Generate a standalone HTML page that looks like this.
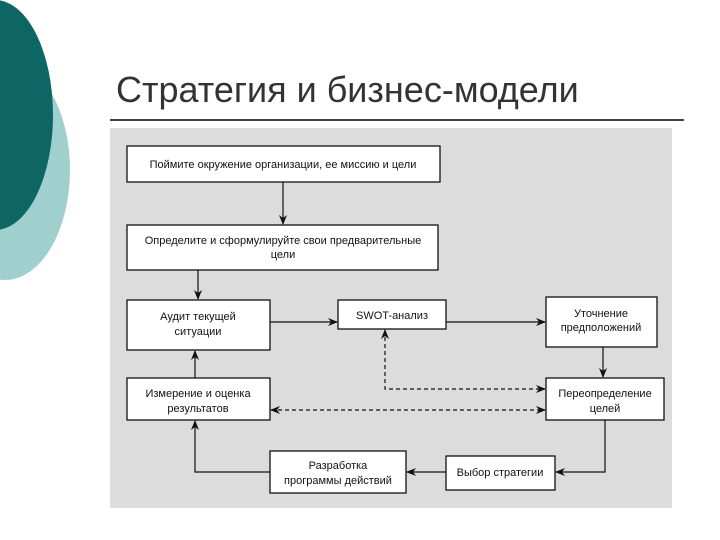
<!DOCTYPE html>
<html><head><meta charset="utf-8"><style>
body{margin:0;width:720px;height:540px;background:#fff;overflow:hidden;position:relative;font-family:"Liberation Sans",sans-serif}
</style></head><body>
<svg width="720" height="540" style="position:absolute;left:0;top:0" font-family="Liberation Sans, sans-serif">
<defs>
<marker id="a" markerWidth="10" markerHeight="8" refX="9" refY="4" orient="auto" markerUnits="userSpaceOnUse"><path d="M0,0 L10,4 L0,8 L3,4z" fill="#111"/></marker>
<marker id="b" markerWidth="10" markerHeight="8" refX="1" refY="4" orient="auto" markerUnits="userSpaceOnUse"><path d="M10,0 L0,4 L10,8 L7,4z" fill="#111"/></marker>
</defs>
<ellipse cx="5" cy="170" rx="65" ry="110" fill="#9fd0ce"/>
<ellipse cx="-5" cy="115" rx="58" ry="115" fill="#0d6663"/>
<text x="116" y="102" font-size="36" fill="#333">Стратегия и бизнес-модели</text>
<line x1="110" y1="120" x2="684" y2="120" stroke="#000" stroke-width="1.5"/>
<rect x="110" y="128" width="562" height="380" fill="#dcdcdc"/>
<g fill="#fff" stroke="#111" stroke-width="1.3">
<rect x="127" y="146" width="313" height="36"/>
<rect x="127" y="225" width="311" height="45"/>
<rect x="127" y="300" width="143" height="50"/>
<rect x="338" y="300" width="108" height="29"/>
<rect x="546" y="297" width="111" height="50"/>
<rect x="127" y="378" width="143" height="42"/>
<rect x="546" y="378" width="118" height="42"/>
<rect x="270" y="451" width="136" height="42"/>
<rect x="446" y="456" width="109" height="34"/>
</g>
<g font-size="11" fill="#111" text-anchor="middle">
<text x="283" y="168">Поймите окружение организации, ее миссию и цели</text>
<text x="283" y="244">Определите и сформулируйте свои предварительные</text>
<text x="283" y="258">цели</text>
<text x="198" y="320">Аудит текущей</text>
<text x="198" y="335">ситуации</text>
<text x="392" y="319">SWOT-анализ</text>
<text x="601" y="317">Уточнение</text>
<text x="601" y="331">предположений</text>
<text x="198" y="397">Измерение и оценка</text>
<text x="198" y="412">результатов</text>
<text x="605" y="397">Переопределение</text>
<text x="605" y="412">целей</text>
<text x="338" y="469">Разработка</text>
<text x="338" y="484">программы действий</text>
<text x="500" y="476">Выбор стратегии</text>
</g>
<g stroke="#111" stroke-width="1.2" fill="none">
<line x1="283" y1="182" x2="283" y2="224" marker-end="url(#a)"/>
<line x1="198" y1="270" x2="198" y2="299" marker-end="url(#a)"/>
<line x1="270" y1="322" x2="337" y2="322" marker-end="url(#a)"/>
<line x1="446" y1="322" x2="545" y2="322" marker-end="url(#a)"/>
<line x1="603" y1="347" x2="603" y2="377" marker-end="url(#a)"/>
<polyline points="605,420 605,472 556,472" marker-end="url(#a)"/>
<line x1="446" y1="472" x2="407" y2="472" marker-end="url(#a)"/>
<polyline points="270,472 195,472 195,421" marker-end="url(#a)"/>
<line x1="195" y1="378" x2="195" y2="351" marker-end="url(#a)"/>
<polyline points="385,330 385,389 545,389" stroke-dasharray="4,3" marker-start="url(#b)" marker-end="url(#a)"/>
<line x1="271" y1="410" x2="545" y2="410" stroke-dasharray="4,3" marker-start="url(#b)" marker-end="url(#a)"/>
</g>
</svg>
</body></html>
